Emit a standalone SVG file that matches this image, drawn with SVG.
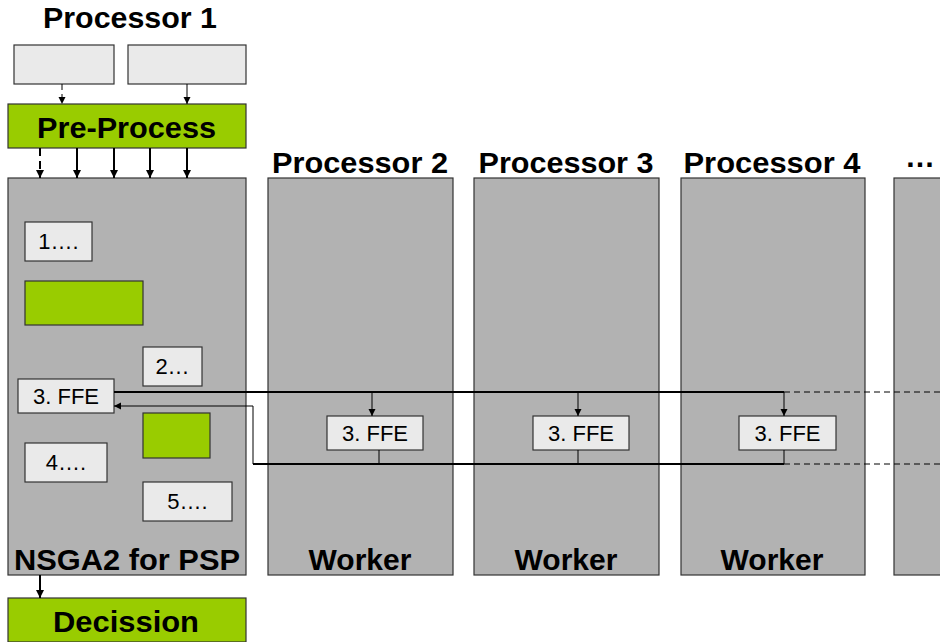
<svg xmlns="http://www.w3.org/2000/svg" width="940" height="642" viewBox="0 0 940 642">
<style>
.proc{fill:#B2B2B2;stroke:#333;stroke-width:1.2}
.lt{fill:#EAEAEA;stroke:#333;stroke-width:1.2}
.gr{fill:#99CC00;stroke:#333;stroke-width:1.2}
.t{font-family:"Liberation Sans",Arial,sans-serif;font-size:22px;fill:#000;text-anchor:middle}
.b{font-family:"Liberation Sans",Arial,sans-serif;font-size:30px;font-weight:bold;fill:#000;text-anchor:middle}
.thin{stroke:#000;stroke-width:1;fill:none}
.thick{stroke:#000;stroke-width:2;fill:none}
.dash{stroke-dasharray:6,4}
</style>
<defs>
<marker id="ah" markerUnits="userSpaceOnUse" markerWidth="10" markerHeight="10" refX="9" refY="5" orient="auto"><path d="M1,1 L9,5 L1,9 Z" fill="#000"/></marker>
<marker id="ahs" markerUnits="userSpaceOnUse" markerWidth="10" markerHeight="10" refX="8" refY="4" orient="auto"><path d="M1,0.5 L8,4 L1,7.5 Z" fill="#000"/></marker>
</defs>

<g id="title1"><text class="b" x="130" y="28" textLength="174" lengthAdjust="spacingAndGlyphs">Processor 1</text></g>
<g id="in1"><rect class="lt" x="14" y="45" width="100" height="39"/></g>
<g id="in2"><rect class="lt" x="128" y="45" width="118" height="39"/></g>
<g id="preprocess"><rect class="gr" x="8" y="104" width="238" height="44"/><text class="b" x="126.5" y="138" textLength="179" lengthAdjust="spacingAndGlyphs">Pre-Process</text></g>

<g id="p1"><rect class="proc" x="8" y="178" width="238" height="397"/><text class="b" x="127" y="570" textLength="226" lengthAdjust="spacingAndGlyphs">NSGA2 for PSP</text></g>
<g id="s1"><rect class="lt" x="25" y="222" width="67" height="39"/><text class="t" x="58.5" y="249">1….</text></g>
<g id="g1"><rect class="gr" x="25" y="281" width="118" height="44"/></g>
<g id="s2"><rect class="lt" x="143" y="347" width="59" height="39"/><text class="t" x="172.5" y="374">2…</text></g>
<g id="ffe1"><rect class="lt" x="18" y="379" width="96" height="34"/><text class="t" x="66" y="404">3. FFE</text></g>
<g id="g2"><rect class="gr" x="143" y="413" width="67" height="45"/></g>
<g id="s4"><rect class="lt" x="25" y="443" width="82" height="39"/><text class="t" x="66" y="470">4….</text></g>
<g id="s5"><rect class="lt" x="143" y="482" width="89" height="39"/><text class="t" x="187.5" y="509">5….</text></g>
<g id="decision"><rect class="gr" x="8" y="598" width="238" height="44"/><text class="b" x="126" y="632" textLength="146" lengthAdjust="spacingAndGlyphs">Decission</text></g>

<g id="p2"><text class="b" x="360" y="173" textLength="176" lengthAdjust="spacingAndGlyphs">Processor 2</text><rect class="proc" x="268" y="178" width="185" height="397"/><text class="b" x="360" y="570">Worker</text></g>
<g id="ffe2"><rect class="lt" x="327" y="416" width="96" height="34"/><text class="t" x="375" y="441">3. FFE</text></g>
<g id="p3"><text class="b" x="566" y="173" textLength="175" lengthAdjust="spacingAndGlyphs">Processor 3</text><rect class="proc" x="474" y="178" width="185" height="397"/><text class="b" x="566" y="570">Worker</text></g>
<g id="ffe3"><rect class="lt" x="533" y="416" width="96" height="34"/><text class="t" x="581" y="441">3. FFE</text></g>
<g id="p4"><text class="b" x="772" y="173" textLength="177" lengthAdjust="spacingAndGlyphs">Processor 4</text><rect class="proc" x="681" y="178" width="184" height="397"/><text class="b" x="772" y="570">Worker</text></g>
<g id="ffe4"><rect class="lt" x="739" y="416" width="97" height="34"/><text class="t" x="787.5" y="441">3. FFE</text></g>
<g id="p5"><text class="b" x="920" y="167">…</text><rect class="proc" x="894" y="178" width="60" height="397"/></g>

<g id="connectors">
<line class="thin dash" x1="62" y1="84" x2="62" y2="104" marker-end="url(#ahs)"/>
<line class="thin" x1="187" y1="84" x2="187" y2="104" marker-end="url(#ahs)"/>
<line class="thick" x1="40" y1="148" x2="40" y2="178" stroke-dasharray="8,5" marker-end="url(#ah)"/>
<line class="thick" x1="77" y1="148" x2="77" y2="178" marker-end="url(#ah)"/>
<line class="thick" x1="114" y1="148" x2="114" y2="178" marker-end="url(#ah)"/>
<line class="thick" x1="150" y1="148" x2="150" y2="178" marker-end="url(#ah)"/>
<line class="thick" x1="187" y1="148" x2="187" y2="178" marker-end="url(#ah)"/>
<line class="thick" x1="40" y1="575" x2="40" y2="598" marker-end="url(#ah)"/>
<line class="thick" x1="114" y1="392" x2="784" y2="392"/>
<line class="thin dash" x1="784" y1="392" x2="940" y2="392"/>
<line class="thin" x1="372" y1="392" x2="372" y2="416" marker-end="url(#ahs)"/>
<line class="thin" x1="578" y1="392" x2="578" y2="416" marker-end="url(#ahs)"/>
<line class="thin" x1="784" y1="392" x2="784" y2="416" marker-end="url(#ahs)"/>
<line class="thin" x1="379" y1="450" x2="379" y2="464"/>
<line class="thin" x1="578" y1="450" x2="578" y2="464"/>
<line class="thin" x1="784" y1="450" x2="784" y2="464"/>
<line class="thick" x1="253" y1="464" x2="784" y2="464"/>
<line class="thin dash" x1="784" y1="464" x2="940" y2="464"/>
<polyline class="thin" points="253,464 253,406 114,406" marker-end="url(#ahs)"/>
</g>
</svg>
